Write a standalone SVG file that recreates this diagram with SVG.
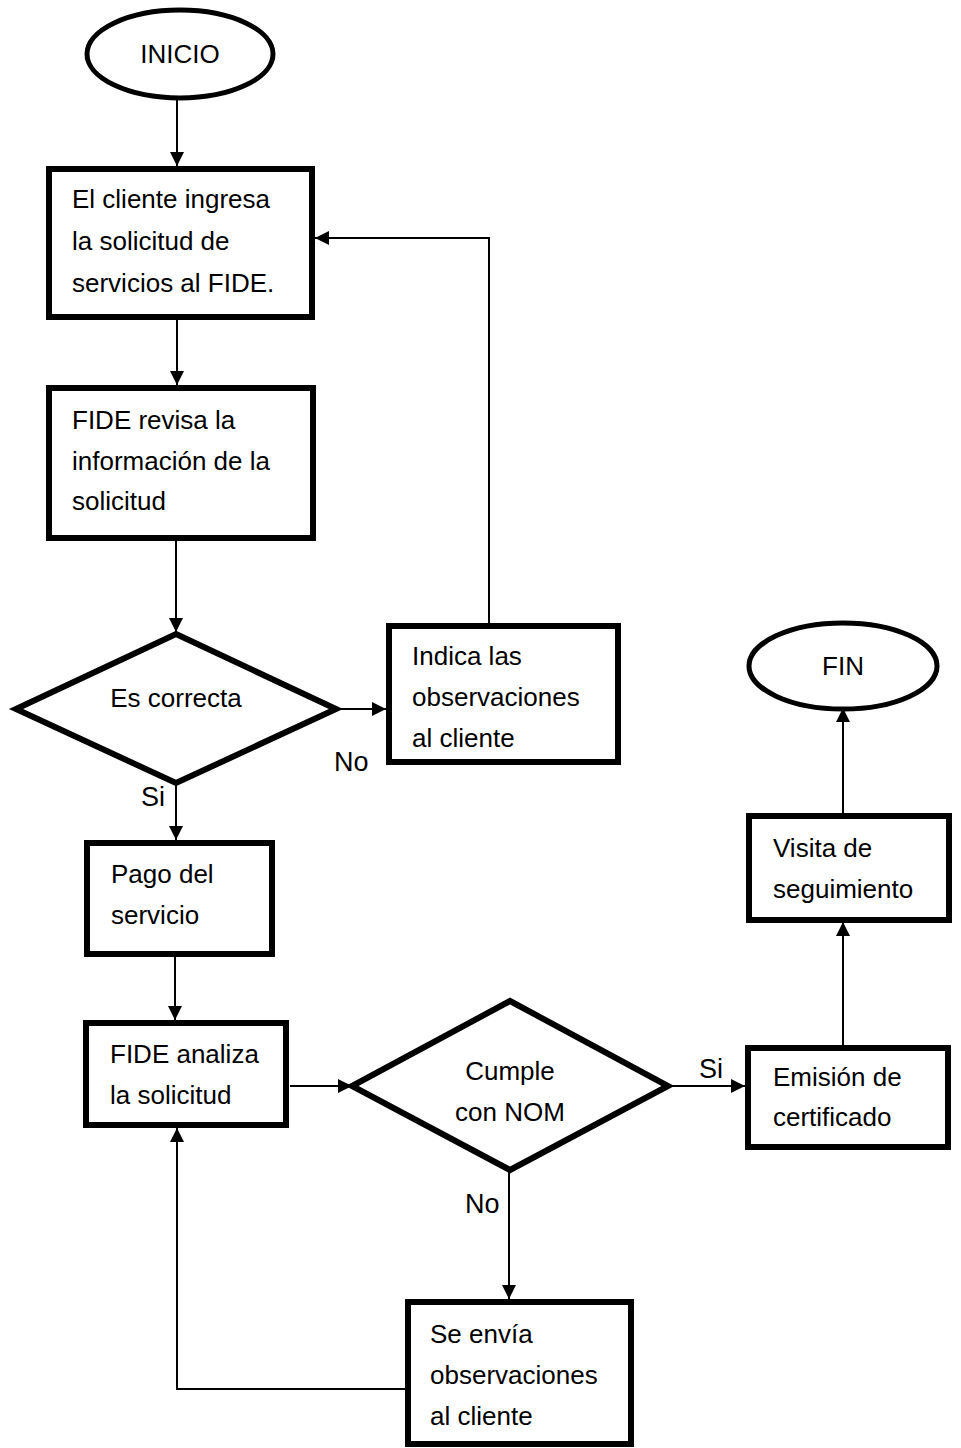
<svg xmlns="http://www.w3.org/2000/svg" width="961" height="1448" viewBox="0 0 961 1448">
<style>
.box{fill:#fff;stroke:#000;stroke-width:6}
.term{fill:#fff;stroke:#000;stroke-width:5}
.t{font-family:"Liberation Sans",Arial,sans-serif;font-size:26px;fill:#000}
.c{text-anchor:middle}
.lbl{font-family:"Liberation Sans",Arial,sans-serif;font-size:27px;fill:#000}
.ln{fill:none;stroke:#000;stroke-width:2}
</style>
<defs>
<marker id="ah" markerWidth="14" markerHeight="14" refX="14" refY="7" orient="auto" markerUnits="userSpaceOnUse">
<path d="M0,0 L14,7 L0,14 Z" fill="#000"/>
</marker>
</defs>
<rect width="961" height="1448" fill="#fff"/>
<g id="connectors">
<path class="ln" d="M177,100 V166" marker-end="url(#ah)"/>
<path class="ln" d="M177,320 V385" marker-end="url(#ah)"/>
<path class="ln" d="M176,541 V632" marker-end="url(#ah)"/>
<path class="ln" d="M336,709 H386" marker-end="url(#ah)"/>
<path class="ln" d="M489,623 V238 H315" marker-end="url(#ah)"/>
<path class="ln" d="M176,783 V840" marker-end="url(#ah)"/>
<path class="ln" d="M175,950 V1020" marker-end="url(#ah)"/>
<path class="ln" d="M290,1086 H352" marker-end="url(#ah)"/>
<path class="ln" d="M668,1086 H745" marker-end="url(#ah)"/>
<path class="ln" d="M843,1045 V922" marker-end="url(#ah)"/>
<path class="ln" d="M843,813 V708" marker-end="url(#ah)"/>
<path class="ln" d="M509,1172 V1299" marker-end="url(#ah)"/>
<path class="ln" d="M405,1389 H177 V1128" marker-end="url(#ah)"/>
<text class="lbl" x="334" y="771">No</text>
<text class="lbl" x="141" y="806">Si</text>
<text class="lbl" x="699" y="1078">Si</text>
<text class="lbl" x="465" y="1213">No</text>
</g>
<g id="inicio">
<ellipse class="term" cx="180" cy="54" rx="93" ry="44"/>
<text class="t c" x="180" y="63">INICIO</text>
</g>
<g id="ingresa">
<rect class="box" x="49" y="169" width="263" height="148"/>
<text class="t" x="72" y="208">El cliente ingresa</text>
<text class="t" x="72" y="250">la solicitud de</text>
<text class="t" x="72" y="292">servicios al FIDE.</text>
</g>
<g id="revisa">
<rect class="box" x="49" y="388" width="264" height="150"/>
<text class="t" x="72" y="429">FIDE revisa la</text>
<text class="t" x="72" y="470">información de la</text>
<text class="t" x="72" y="510">solicitud</text>
</g>
<g id="correcta">
<path class="box" d="M176,634 L336,709 L176,783 L16,709 Z"/>
<text class="t c" x="176" y="707">Es correcta</text>
</g>
<g id="indica">
<rect class="box" x="389" y="626" width="229" height="136"/>
<text class="t" x="412" y="665">Indica las</text>
<text class="t" x="412" y="706">observaciones</text>
<text class="t" x="412" y="747">al cliente</text>
</g>
<g id="pago">
<rect class="box" x="87" y="843" width="185" height="111"/>
<text class="t" x="111" y="883">Pago del</text>
<text class="t" x="111" y="924">servicio</text>
</g>
<g id="analiza">
<rect class="box" x="86" y="1023" width="200" height="102"/>
<text class="t" x="110" y="1063">FIDE analiza</text>
<text class="t" x="110" y="1104">la solicitud</text>
</g>
<g id="cumple">
<path class="box" d="M510,1001 L668,1086 L510,1170 L352,1086 Z"/>
<text class="t c" x="510" y="1080">Cumple</text>
<text class="t c" x="510" y="1121">con NOM</text>
</g>
<g id="emision">
<rect class="box" x="748" y="1048" width="200" height="99"/>
<text class="t" x="773" y="1086">Emisión de</text>
<text class="t" x="773" y="1126">certificado</text>
</g>
<g id="visita">
<rect class="box" x="749" y="816" width="200" height="104"/>
<text class="t" x="773" y="857">Visita de</text>
<text class="t" x="773" y="898">seguimiento</text>
</g>
<g id="fin">
<ellipse class="term" cx="843" cy="666" rx="94" ry="43"/>
<text class="t c" x="843" y="675">FIN</text>
</g>
<g id="envia">
<rect class="box" x="408" y="1302" width="223" height="142"/>
<text class="t" x="430" y="1343">Se envía</text>
<text class="t" x="430" y="1384">observaciones</text>
<text class="t" x="430" y="1425">al cliente</text>
</g>
</svg>
